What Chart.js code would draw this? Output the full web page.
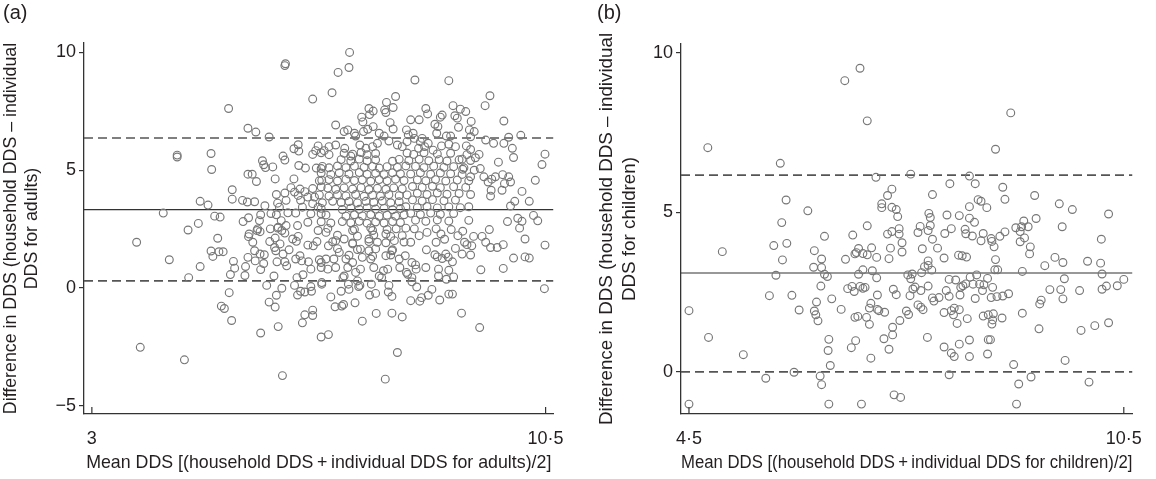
<!DOCTYPE html>
<html>
<head>
<meta charset="utf-8">
<title>Bland-Altman DDS</title>
<script src="https://cdn.jsdelivr.net/npm/chart.js@4.4.1/dist/chart.umd.min.js"></script>
<style>
    body { margin: 0; background: #fff; width: 1156px; height: 479px; overflow: hidden; position: relative; font-family: "Liberation Sans", Arial, sans-serif; }
    .panel { position: absolute; top: 0; width: 578px; height: 479px; }
    .tag { position: absolute; top: 1px; font-size: 20px; color: #231f20; }
</style>
</head>
<body>
<div class="panel" style="left:0"><canvas id="adultChart"></canvas></div>
<div class="panel" style="left:578px"><canvas id="childChart"></canvas></div>
<div class="tag" style="left:3px">(a)</div>
<div class="tag" style="left:597px">(b)</div>

<script>
// Panel (a): adults -- [mean DDS, difference in DDS]
const adultPoints = [
    [6.19,9.44],[6.20,9.52],[6.65,8.02],[5.26,7.62],[5.58,6.78],[5.71,6.62],[5.93,6.41],[4.41,5.64],[4.41,5.56],[4.97,5.71],
    [4.98,5.03],[5.58,4.83],[5.65,4.83],[5.72,4.52],[5.82,5.40],[5.84,5.23],[5.87,5.11],[5.99,5.14],[6.16,5.60],[6.19,5.43],
    [6.03,4.63],[6.34,4.63],[6.34,5.91],[6.41,6.08],[6.42,5.81],[6.42,5.20],[6.53,5.09],[6.65,5.67],[6.70,5.83],[6.74,6.03],
    [6.71,5.09],[6.79,5.07],[5.32,4.17],[5.32,3.77],[5.49,3.72],[5.57,3.65],[5.69,3.66],[4.79,3.68],[4.92,3.52],[4.18,3.18],
    [5.03,3.05],[5.12,3.01],[5.50,2.82],[5.59,2.98],[4.76,2.74],[4.59,2.46],[5.86,3.49],[5.79,3.11],[5.96,3.16],[6.05,3.97],
    [6.07,3.60],[6.19,4.03],[6.21,3.72],[6.29,4.26],[6.35,4.07],[6.41,3.93],[6.44,4.20],[6.45,3.72],[6.52,4.09],[6.57,3.86],
    [6.65,4.22],[6.68,3.86],[6.79,4.29],[6.80,4.57],[6.10,3.43],[6.05,3.11],[6.13,2.86],[6.24,3.19],[6.37,3.18],[6.48,3.43],
    [6.65,3.58],[6.62,3.15],[6.74,3.43],[6.79,3.15],[6.57,2.79],[6.40,2.65],[6.21,2.65],[6.08,2.58],[5.95,2.51],[5.77,2.86],
    [5.74,2.51],
    [3.74,1.94],[4.28,1.20],[4.79,0.91],[4.60,0.44],[5.08,2.11],[4.97,1.57],[5.00,1.34],[5.10,1.54],[5.17,1.54],[5.34,1.13],
    [5.36,0.84],[5.29,0.57],[5.58,1.30],[5.54,0.91],[5.53,0.53],[5.69,1.58],[5.70,1.15],[5.79,0.78],[5.78,1.44],[5.85,1.41],
    [5.84,1.04],[5.60,2.29],[5.59,2.18],[5.66,1.94],[5.73,2.44],[5.78,2.39],[5.94,1.97],[6.03,2.12],[6.02,1.72],[6.04,1.58],
    [6.07,2.54],[6.11,1.87],[6.14,2.44],[6.19,2.33],[6.16,1.44],[6.06,1.11],[6.19,1.11],[6.26,1.62],[6.22,0.94],[6.32,2.08],
    [6.38,1.98],[6.41,2.19],[6.57,1.82],[6.66,1.79],[6.72,1.97],[6.74,2.44],[6.44,1.37],[6.47,1.15],[6.37,1.23],[6.58,1.11],
    [6.62,0.80],[6.49,0.56],[6.39,0.44],[6.76,1.20],[6.79,0.87],[6.80,0.23],[6.01,0.51],[5.89,0.11],[6.14,-0.01],[6.05,-0.31],
    [5.93,-0.60],[6.03,-0.81],[6.40,-0.30],[6.45,-0.14],[6.35,0.11],[6.52,-0.17],[6.62,0.06],[6.63,-0.14],[5.27,-0.20],[5.14,-0.77],
    [5.19,-0.87],[5.31,-1.38],[5.79,-1.91],[6.08,-1.64],[6.52,-1.14],[6.65,-0.94],[6.65,-1.17],[6.48,-1.48],[6.79,-2.08],[3.80,-2.52],
    [4.53,-3.05],[6.15,-3.72],
    [7.85,-3.87],[8.05,-2.74],[7.47,-1.41],[6.91,-1.98],[7.70,-1.08],[7.96,-1.07],[8.13,-1.23],[9.41,-1.68],[9.11,-1.07],[10.48,-0.03],
    [6.95,-0.38],[7.02,-0.80],[7.13,-0.77],[7.16,-0.70],[7.35,-0.63],[7.12,-0.14],[7.24,0.16],[7.25,-0.06],[7.39,0.30],[7.41,0.06],
    [7.43,0.11],[7.59,-0.30],[7.69,-0.23],[7.62,0.16],[7.91,0.11],[7.90,-0.17],[7.96,-0.36],[8.27,-0.54],[8.42,-0.56],[8.45,-0.41],
    [8.56,-0.31],[8.62,-0.06],[8.75,-0.51],[8.90,-0.26],[8.96,-0.26],[8.37,0.04],[8.29,0.26],[8.22,0.58],[8.36,0.80],[8.52,0.87],
    [8.73,0.80],[8.73,0.51],[8.86,0.37],[8.98,0.47],[8.90,0.75],[8.96,1.11],[9.43,0.77],[9.80,0.83],[9.97,1.27],[10.16,1.32],
    [10.23,1.27],[10.49,1.82],[10.16,2.08],[9.80,1.84],[9.70,1.72],[9.59,1.72],[9.51,1.94],[9.45,2.19],[9.57,2.48],[10.07,2.54],
    [9.31,2.19],[9.28,1.79],[9.20,1.84],[9.16,1.94],[9.26,1.40],[9.12,1.44],[9.05,2.22],[9.13,2.41],[9.01,1.68],[8.89,1.31],
    [8.83,2.07],[8.77,2.29],[8.69,1.94],[8.67,1.41],[8.71,1.32],[8.79,1.25],[8.85,1.44],[8.94,2.48],[8.53,1.62],[8.35,0.98],
    [8.29,1.08],[8.20,0.66],[8.29,0.44],[8.18,1.37],[8.09,0.87],[8.08,1.23],[7.96,1.58],[7.89,0.80],[7.82,0.73],[7.75,0.51],
    [7.79,0.44],[7.66,0.87],[7.61,1.23],[7.58,1.58],[7.44,0.80],[7.36,0.66],[7.31,1.08],[7.23,0.87],[7.20,1.23],[7.17,0.51],
    [7.15,0.44],[7.03,0.87],[7.00,1.23],[6.90,0.80],[6.87,1.23],[6.80,0.16],[6.91,1.79],[7.03,2.01],[7.17,2.08],[7.31,1.87],
    [7.44,1.65],[7.58,2.08],[7.72,1.94],[7.86,2.29],[8.00,2.01],[8.13,2.22],[8.27,1.94],[8.41,2.22],[8.54,2.36],[7.09,1.51],
    [7.47,1.30],[7.86,1.37],[6.87,2.36],[7.31,2.44],[7.64,2.44],[8.03,2.51],[8.33,2.51],[8.69,2.51],[6.79,1.08],
    [7.26,10.00],[7.25,9.36],[7.07,9.15],[8.34,8.83],[8.90,8.80],[6.97,8.29],[8.02,8.13],[7.87,7.88],[9.58,8.16],[9.50,7.74],
    [7.58,7.62],[7.65,7.51],[7.84,7.56],[7.86,7.45],[7.98,7.66],[8.52,7.62],[8.55,7.39],[8.97,7.74],[9.09,7.59],[9.18,7.49],
    [8.79,7.34],[8.76,7.25],[9.00,7.31],[9.04,7.21],[7.46,7.25],[7.48,7.05],[7.59,7.36],[7.65,6.85],[7.56,6.74],[7.93,7.02],
    [7.98,6.75],[8.27,7.14],[8.41,7.14],[8.67,6.95],[8.72,6.85],[9.27,7.07],[9.06,6.82],[9.24,6.71],[9.32,6.64],[9.81,7.09],
    [7.03,6.92],[7.17,6.64],[7.23,6.71],[7.36,6.45],[7.34,6.57],[7.49,6.64],[7.75,6.57],[7.83,6.45],[8.20,6.71],[8.23,6.50],
    [8.31,6.57],[8.33,6.35],[8.46,6.35],[8.70,6.57],[8.86,6.45],[8.93,6.45],[9.26,6.42],[9.51,6.28],[9.64,6.14],[9.81,6.14],
    [9.89,6.40],[10.09,6.48],[9.95,5.93],[9.97,5.54],[10.49,5.68],[10.44,5.24],[10.33,4.57],[9.72,5.34],[10.11,4.10],[10.23,3.68],
    [9.92,3.48],[9.99,3.68],[10.30,3.08],[10.37,2.85],[10.11,2.83],[9.87,2.82],[10.04,2.96],[9.79,4.81],[9.89,4.72],[9.67,4.72],
    [9.61,4.62],[9.92,4.50],[9.82,4.43],[9.78,4.15],[9.55,4.50],[9.60,4.15],[9.59,3.90],[9.48,4.72],[9.40,5.67],[9.34,5.53],
    [9.42,5.07],[9.32,5.00],[9.26,4.72],[9.12,5.47],[9.13,5.04],[9.26,5.88],[9.19,6.03],[9.01,6.00],[8.90,6.10],[8.78,6.03],
    [8.64,5.85],[8.56,6.14],[8.50,6.00],[8.43,6.21],[8.40,5.93],[8.21,6.21],[8.13,6.00],[8.05,6.07],[7.91,6.24],[7.72,6.14],
    [7.64,6.00],[7.53,5.93],[7.43,6.07],[7.28,5.60],[7.18,5.93],[7.03,6.07],[6.92,6.00],[6.84,5.83],
    [6.79,5.74],[6.92,5.66],[7.17,5.72],[7.31,5.68],[7.45,5.75],[7.55,5.66],[7.69,5.71],
    [7.12,5.45],[7.28,5.39],[7.42,5.47],[7.55,5.40],[7.69,5.44],[7.97,5.38],[8.08,5.46],
    [6.81,5.16],[6.92,5.10],[7.06,5.18],[7.20,5.11],[7.34,5.17],[7.50,5.12],[7.64,5.16],[7.75,5.09],[7.88,5.15],[8.05,5.12],[8.19,5.18],
    [6.79,4.88],[6.95,4.82],[7.09,4.89],[7.25,4.84],[7.42,4.90],[7.55,4.83],[7.69,4.87],[7.83,4.81],[7.97,4.89],[8.10,4.85],
    [6.76,4.55],[6.92,4.60],[7.06,4.54],[7.20,4.61],[7.34,4.56],[7.47,4.59],[7.61,4.53],[7.75,4.60],[7.88,4.55],[8.02,4.62],[8.16,4.56],
    [6.90,4.24],[7.03,4.19],[7.17,4.25],[7.31,4.20],[7.45,4.26],[7.58,4.18],[7.72,4.23],[7.86,4.19],[7.99,4.25],[8.13,4.21],
    [6.76,3.95],[6.92,3.90],[7.06,3.96],[7.20,3.91],[7.36,3.97],[7.50,3.89],[7.64,3.94],[7.77,3.90],[7.91,3.96],[8.08,3.92],[8.21,3.95],
    [6.81,3.62],[6.98,3.68],[7.12,3.63],[7.25,3.67],[7.39,3.61],[7.53,3.68],[7.66,3.64],[7.80,3.69],[7.94,3.62],[8.08,3.66],
    [6.79,3.38],[7.14,3.33],[7.28,3.39],[7.42,3.34],[7.55,3.40],[7.69,3.35],[7.83,3.38],[7.97,3.32],[8.10,3.37],
    [6.87,3.10],[7.20,3.05],[7.34,3.11],[7.47,3.06],[7.61,3.12],[7.75,3.04],[7.88,3.09],[8.02,3.05],[8.16,3.11],
    [6.79,2.81],[6.95,2.76],[7.14,2.82],[7.28,2.77],[7.42,2.83],[7.55,2.75],[7.69,2.80],[7.83,2.76],[7.97,2.82],[8.10,2.78],
    [6.90,2.53],[7.34,2.49],[7.61,2.55],[7.88,2.48],[8.19,2.54],[7.06,2.24],[7.39,2.20],[7.66,2.25],[7.94,2.19],
    [6.98,1.96],[7.31,1.91],[7.58,1.97],[7.86,1.92],[8.16,1.95],[7.06,1.67],[7.39,1.63],[7.69,1.66],[7.97,1.62],
    [7.25,1.39],[7.64,1.35],[7.94,1.40],
    [8.21,5.73],[8.32,5.67],[8.49,5.74],[8.71,5.69],[8.93,5.72],[9.20,5.66],
    [8.24,5.41],[8.41,5.46],[8.57,5.40],[8.74,5.45],[8.87,5.39],[9.07,5.44],[9.26,5.41],
    [8.35,5.16],[8.49,5.11],[8.65,5.17],[8.82,5.12],[8.98,5.15],[9.15,5.10],
    [8.27,4.84],[8.43,4.89],[8.60,4.83],[8.76,4.88],[8.93,4.85],[9.12,4.82],
    [8.38,4.59],[8.52,4.55],[8.68,4.60],[8.85,4.54],[9.04,4.58],[9.23,4.55],
    [8.30,4.31],[8.46,4.27],[8.63,4.32],[8.76,4.26],[8.98,4.30],[9.18,4.27],
    [8.38,4.02],[8.54,3.97],[8.71,4.03],[8.87,3.98],[9.07,4.01],[9.26,3.97],
    [8.30,3.74],[8.46,3.69],[8.63,3.75],[8.82,3.70],[9.01,3.73],
    [8.19,3.45],[8.38,3.41],[8.54,3.46],[8.71,3.40],[8.90,3.44],[9.09,3.41],[9.23,3.45],
    [8.27,3.17],[8.43,3.12],[8.60,3.18],[8.76,3.13],[8.98,3.16],
    [8.35,2.88],[8.52,2.83],[8.71,2.89],[8.90,2.84],[9.23,2.87]
];
const adultMeanDiff = 3.33;
const adultLimits = [0.30, 6.37];

// Panel (b): children -- [mean DDS, difference in DDS]
const childPoints = [
    [6.86,9.52],[6.65,9.13],[6.96,7.87],[4.76,7.03],[5.76,6.54],[7.08,6.10],[7.30,5.73],[7.24,5.53],[7.16,5.27],[7.16,5.15],
    [7.30,5.16],[7.36,5.09],[7.38,4.87],[5.84,5.39],[6.14,5.05],[5.78,4.68],[6.96,4.58],[7.40,4.49],[6.37,4.25],[6.76,4.29],
    [7.24,4.32],[7.30,4.40],[7.40,4.32],[7.44,4.05],[4.96,3.77],[5.67,3.96],[5.85,4.03],[5.79,3.51],[6.23,3.80],[6.33,3.54],
    [6.22,3.28],[6.33,3.27],[6.37,3.06],[6.41,2.99],[6.66,3.53],[6.79,3.70],[6.81,3.74],[6.84,3.87],[6.90,3.71],[6.96,3.67],
    [7.02,3.89],[7.09,3.59],[7.26,3.55],[7.28,3.88],[7.44,3.76],[5.70,3.03],[6.90,3.20],[6.84,3.06],[7.03,3.17],[7.09,2.95],
    [5.61,2.39],[5.92,2.40],[6.32,2.69],[6.69,2.61],[6.75,2.68],[6.78,2.52],[6.86,2.68],[6.90,2.62],[6.93,2.65],[7.32,2.59],
    [7.36,2.42],[7.10,2.41],[6.47,2.29],[6.26,2.19],[7.01,2.15],[6.99,2.00],[7.10,1.96],[7.12,1.92],[7.20,1.87],[4.50,1.92],
    [6.02,1.94],[6.23,1.91],[6.25,1.79],[6.28,1.60],[6.60,1.96],[6.79,1.71],[6.83,1.74],[6.95,1.71],[6.99,1.49],[7.41,1.61],
    [4.77,1.08],[5.25,0.54],[6.43,1.02],[6.42,0.67],[6.45,0.20],[6.80,0.98],[6.74,0.76],[7.19,1.04],[7.31,1.16],[7.31,1.40],
    [7.26,0.71],[7.01,0.43],[5.95,-0.01],[5.56,-0.20],[6.31,-0.13],[6.33,-0.40],[4.50,-1.01],[6.43,-1.01],[6.88,-1.01],[7.33,-0.72],
    [7.42,-0.80],
    [8.94,8.12],[8.73,6.98],[7.56,6.20],[8.37,6.14],[8.10,5.90],[8.45,5.90],[8.83,5.79],[7.86,5.56],[9.27,5.53],[8.86,5.41],
    [8.49,5.40],[8.53,5.35],[8.37,5.18],[8.61,5.15],[9.61,5.27],[9.79,5.09],[10.29,4.95],[7.81,4.97],[7.83,4.84],[8.06,4.92],
    [8.23,4.90],[8.37,4.82],[8.44,4.69],[9.29,4.81],[9.65,4.55],[7.83,4.59],[7.69,4.56],[7.66,4.37],[7.80,4.43],[8.12,4.49],
    [8.03,4.34],[8.31,4.47],[8.32,4.33],[8.41,4.26],[8.56,4.34],[8.53,4.11],[8.67,4.18],[8.68,4.09],[8.71,3.92],[8.79,4.25],
    [8.86,4.39],[9.01,4.52],[9.07,4.40],[9.09,4.55],[9.12,4.73],[9.18,4.55],[9.07,4.08],[9.13,4.20],[9.21,3.92],[9.20,3.70],
    [7.86,4.16],[7.93,3.88],[7.72,3.86],[8.02,3.57],[8.22,3.66],[8.27,3.64],[8.33,3.60],[8.73,3.52],[7.80,3.48],[7.75,3.30],
    [7.80,3.34],[7.85,3.19],[7.71,3.11],[7.52,3.04],[7.58,3.07],[7.56,2.92],[8.72,3.20],[8.76,3.20],[9.10,3.15],[9.41,3.33],
    [9.55,3.59],[9.66,3.43],[10.00,3.47],[10.18,3.41],[10.19,4.16],[10.20,3.07],[10.50,2.90],[10.41,2.70],[10.26,2.69],[10.20,2.59],
    [9.89,2.55],[9.68,2.92],[9.63,2.58],[9.48,2.58],[9.66,2.29],[9.36,2.25],[9.34,2.13],[9.33,1.35],[9.10,1.84],[9.91,1.30],
    [10.10,1.45],[10.29,1.54],[9.69,0.36],[8.98,0.23],[9.05,-0.38],[9.22,-0.16],[10.02,-0.32],[9.02,-1.01],[8.09,-0.09],[8.09,2.90],
    [8.18,2.88],[8.05,2.55],[8.09,2.37],[8.25,2.65],[8.28,2.70],[8.32,2.76],[8.38,2.97],[8.47,3.04],[8.42,2.75],[8.51,2.75],
    [8.57,2.73],[8.55,2.55],[8.62,2.93],[8.69,2.65],[8.24,2.41],[8.45,2.30],[8.67,2.33],[8.75,2.36],[8.83,2.38],[8.91,2.45],
    [7.59,2.60],[7.70,2.55],[7.62,2.66],[7.55,2.39],[7.80,2.69],[7.86,2.32],[7.88,2.22],[7.95,2.33],[7.66,2.10],[7.70,2.03],
    [7.73,1.95],[7.50,1.91],[7.53,1.80],[8.02,1.86],[8.12,1.92],[8.16,2.00],[8.15,1.79],[8.23,1.95],[8.20,1.52],[8.34,1.67],
    [8.56,1.75],[8.63,1.79],[8.70,1.82],[8.69,1.63],[8.68,1.50],[8.82,1.69],[7.79,1.08],[8.02,0.78],[8.23,0.87],[8.12,0.59],
    [8.16,0.48],[8.37,1.00],[8.37,0.48],[8.63,1.01],[8.66,1.01],[8.62,0.56]
];
const childMeanDiff = 3.10;
const childLimits = [0.00, 6.17];

// axes
const adultXRange = [2.87, 10.63];
const adultYRange = [-5.35, 10.4];
const adultXTicks = [3, 10.5];
const adultYTicks = [-5, 0, 5, 10];
const childXRange = [4.39, 10.62];
const childYRange = [-1.32, 10.28];
const childXTicks = [4.5, 10.5];
const childYTicks = [0, 5, 10];

const TEXT = '#231f20';
const FAMILY = '"Liberation Sans", Arial, sans-serif';
const fontTick = { family: FAMILY, size: 18 };

// x ticks in the original point inwards
const innerTicks = {
    id: 'innerTicks',
    afterDraw(chart) {
        const { ctx, chartArea } = chart;
        const x = chart.scales.x;
        ctx.save();
        ctx.strokeStyle = '#333';
        ctx.lineWidth = 1.2;
        x.ticks.forEach(t => {
            const px = x.getPixelForValue(t.value);
            ctx.beginPath();
            ctx.moveTo(px, chartArea.bottom);
            ctx.lineTo(px, chartArea.bottom - 7);
            ctx.stroke();
        });
        ctx.restore();
    }
};

function refLine(xr, y, dashed) {
    return {
        type: 'line',
        data: [{ x: xr[0], y: y }, { x: xr[1], y: y }],
        borderColor: dashed ? '#555' : '#333',
        borderWidth: dashed ? 1.6 : 1.2,
        borderDash: dashed ? [9, 5] : [],
        pointRadius: 0,
        order: 2
    };
}

function baChart(id, points, mean, limits, xr, yr, xTicks, yTicks, box, yTitle, xTitle, titleSize, yTitlePad) {
    const ctx = document.getElementById(id).getContext('2d');
    const fontTitle = { family: FAMILY, size: titleSize, lineHeight: 1.2 };
    return new Chart(ctx, {
        type: 'scatter',
        data: {
            datasets: [{
                data: points.map(p => ({ x: p[0], y: p[1] })),
                pointRadius: 3.9,
                pointBorderWidth: 1.15,
                borderColor: '#777',
                backgroundColor: 'rgba(0,0,0,0)',
                order: 1
            },
            refLine(xr, mean, false),
            refLine(xr, limits[0], true),
            refLine(xr, limits[1], true)]
        },
        options: {
            responsive: true,
            maintainAspectRatio: false,
            animation: false,
            events: [],
            layout: { padding: { left: 0, top: box.top, right: box.right, bottom: 0 } },
            plugins: { legend: { display: false }, tooltip: { enabled: false } },
            scales: {
                x: {
                    type: 'linear',
                    min: xr[0],
                    max: xr[1],
                    afterBuildTicks: s => { s.ticks = xTicks.map(v => ({ value: v })); },
                    afterFit: s => { s.height = box.xHeight; },
                    grid: { display: false, drawTicks: false },
                    border: { display: true, color: '#333', width: 1.3 },
                    ticks: {
                        color: TEXT, font: fontTick, padding: 14, maxRotation: 0,
                        callback: v => String(v).replace('.', '·')
                    },
                    title: { display: true, text: xTitle, color: TEXT, font: fontTitle, padding: { top: 0, bottom: 5 } }
                },
                y: {
                    type: 'linear',
                    min: yr[0],
                    max: yr[1],
                    afterBuildTicks: s => { s.ticks = yTicks.map(v => ({ value: v })); },
                    afterFit: s => { s.width = box.left; },
                    grid: { drawOnChartArea: false, drawTicks: true, tickLength: 5, color: '#333', lineWidth: 1.2 },
                    border: { display: true, color: '#333', width: 1.3 },
                    ticks: {
                        color: TEXT, font: fontTick, padding: 3,
                        callback: v => v < 0 ? '\u2212' + Math.abs(v) : String(v)
                    },
                    title: { display: true, text: yTitle, color: TEXT, font: fontTitle, padding: { top: yTitlePad, bottom: 0 } }
                }
            }
        },
        plugins: [innerTicks]
    });
}

// Adults
baChart('adultChart', adultPoints, adultMeanDiff, adultLimits, adultXRange, adultYRange, adultXTicks, adultYTicks,
    { left: 84, top: 43, right: 23, xHeight: 65 },
    ['Difference in DDS (household DDS \u2013 individual', 'DDS for adults)'],
    'Mean DDS [(household DDS\u2009+\u2009individual DDS for adults)/2]', 17.8, 0);

// Children
baChart('childChart', childPoints, childMeanDiff, childLimits, childXRange, childYRange, childXTicks, childYTicks,
    { left: 103, top: 44, right: 10, xHeight: 65 },
    ['Difference in DDS (household DDS \u2013 individual', 'DDS for children)'],
    'Mean DDS [(household DDS\u2009+\u2009individual DDS for children)/2]', 18.8, 18);
</script>
</body>
</html>
